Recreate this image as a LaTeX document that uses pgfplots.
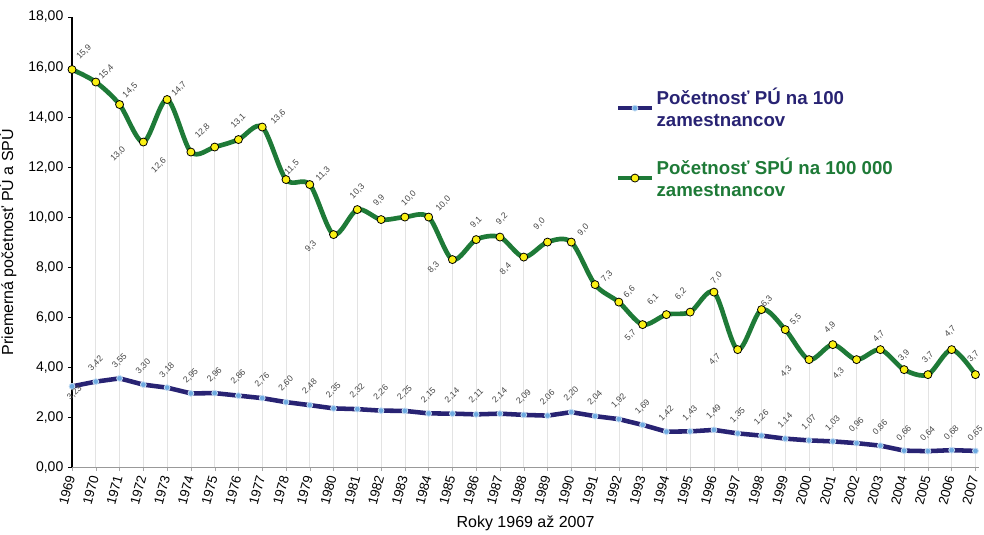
\documentclass[border=0pt]{standalone}
\usepackage{pgfplots}
\pgfplotsset{compat=1.18}
\usepackage{pgfplotstable}
\usepackage{fontspec}
\setmainfont{Liberation Sans}
\definecolor{pugreen}{RGB}{30,122,55}
\definecolor{punavy}{RGB}{40,35,115}
\definecolor{pulight}{RGB}{110,170,225}
\definecolor{puyellow}{RGB}{250,240,20}
\definecolor{labgray}{RGB}{70,70,70}
% gdx, gdy, bdx, bdy: label offsets (pt) of the value labels
\pgfplotstableread{
year pu spu gdx gdy bdx bdy
1969 3.23 15.9 9 13 2 -5
1970 3.42 15.4 8 7.5 0 13.5
1971 3.55 14.5 8 10.5 0 13
1972 3.30 13.0 -19 -9 0 13.5
1973 3.18 14.7 9 8 0 13
1974 2.95 12.6 -24 -10 0 13
1975 2.96 12.8 -9 12 0 13.5
1976 2.86 13.1 0 14 0 14
1977 2.76 13.6 12 7.5 0 13.5
1978 2.60 11.5 4.5 9 0 14
1979 2.48 11.3 10 8 0 14
1980 2.35 9.3 -17 -9 0 13.5
1981 2.32 10.3 0 13.5 0 13.5
1982 2.26 9.9 -1.5 14 0 13.5
1983 2.25 10.0 3 14 0 13.5
1984 2.15 10.0 11 10 0 13.5
1985 2.14 8.3 -14 -6 0 13.5
1986 2.11 9.1 0 13 0 13.5
1987 2.14 9.2 1.5 13.5 0 13.5
1988 2.09 8.4 -13.5 -9 0 13.5
1989 2.06 9.0 -6 13.5 0 13.5
1990 2.20 9.0 9 9 0 13.5
1991 2.04 7.3 9 6 0 13.5
1992 1.92 6.6 8 7.5 0 13.5
1993 1.69 5.7 -9 -8 0 13.5
1994 1.42 6.1 -10 11 0 13.5
1995 1.43 6.2 -7 13.5 0 13.5
1996 1.49 7.0 2 10.5 0 13.5
1997 1.35 4.7 -17 -7.5 0 13.5
1998 1.26 6.3 4 6 0 13.5
1999 1.14 5.5 8 7.5 0 13.5
2000 1.07 4.3 -17 -9 0 13.5
2001 1.03 4.9 -2 13 0 13.5
2002 0.96 4.3 -13.5 -10.5 0 13.5
2003 0.86 4.7 -1 10 0 13.5
2004 0.66 3.9 0 10.5 0 13
2005 0.64 3.7 0 13 0 13
2006 0.68 4.7 -1 13.5 0 13
2007 0.65 3.7 -1.5 13.5 0 13
}\data
\begin{document}
\begin{tikzpicture}
\begin{axis}[
  scale only axis, width=680pt, height=337.5pt,
  xmin=1969, xmax=2007.15, ymin=0, ymax=18,
  axis lines=left, axis line style={-},
  x axis line style={draw=gray!80},
  y axis line style={draw=black, line width=0.9pt},
  xtick={1969,...,2007}, ytick={0,2,...,18},
  tick align=outside, major tick length=3pt,
  xtick style={draw=gray!70}, ytick style={draw=black},
  /pgf/number format/assume math mode=true,
  xticklabel style={rotate=75, anchor=east, font=\fontsize{10}{12}\selectfont, /pgf/number format/1000 sep={}},
  yticklabel style={font=\fontsize{10.5}{12}\selectfont, /pgf/number format/.cd, fixed, fixed zerofill, precision=2, use comma},
  label style={font=\fontsize{12}{14}\selectfont},
  ylabel={Priemerná početnosť PÚ a SPÚ},
  ylabel shift=2pt,
  xlabel={Roky 1969 až 2007},
  legend style={at={(0.595,0.855)}, anchor=north west, draw=none, fill=none,
    font=\bfseries\fontsize{14}{16.5}\selectfont, row sep=18pt, cells={align=left}},
  legend cell align=left,
  legend image code/.code={\draw[mark repeat=2,mark phase=2,#1] plot coordinates {(0pt,0pt) (12.5pt,0pt) (25pt,0pt)};},
]
% drop lines
\addplot[ycomb, draw=gray!22, line width=0.5pt, mark=none, forget plot, restrict x to domain=1969.5:2008] table[x=year,y=spu]{\data};
% PU series
\addplot[punavy, line width=3.4pt, mark=*, mark size=2.2pt,
  mark options={fill=pulight, draw=pulight!40!white, line width=0.6pt}] table[x=year,y=pu]{\data};
\addlegendentry[text=punavy]{Početnosť PÚ na 100\\zamestnancov}
% SPU series
\addplot[pugreen, line width=3.5pt, smooth, mark=*, mark size=3pt,
  mark options={fill=puyellow, draw=black, line width=0.6pt}] table[x=year,y=spu]{\data};
\addlegendentry[text=pugreen]{Početnosť SPÚ na 100 000\\zamestnancov}
% green value labels
\addplot[only marks, mark=none, forget plot, point meta=explicit,
  visualization depends on={\thisrow{gdx}\as\gdx},
  visualization depends on={\thisrow{gdy}\as\gdy},
  nodes near coords={\pgfmathprintnumber[fixed,fixed zerofill,precision=1,use comma]{\pgfplotspointmeta}},
  every node near coord/.append style={anchor=center, xshift=\gdx pt, yshift=\gdy pt, rotate=45,
    font=\fontsize{6.5}{7}\selectfont, text=labgray, inner sep=0.5pt}]
  table[x=year,y=spu,meta=spu]{\data};
% blue value labels
\addplot[only marks, mark=none, forget plot, point meta=explicit,
  visualization depends on={\thisrow{bdx}\as\bdx},
  visualization depends on={\thisrow{bdy}\as\bdy},
  nodes near coords={\pgfmathprintnumber[fixed,fixed zerofill,precision=2,use comma]{\pgfplotspointmeta}},
  every node near coord/.append style={anchor=center, xshift=\bdx pt, yshift=\bdy pt, rotate=45,
    font=\fontsize{6.5}{7}\selectfont, text=labgray, inner sep=0.5pt}]
  table[x=year,y=pu,meta=pu]{\data};
\end{axis}
\pgfresetboundingbox
\path ([shift={(-54pt,-50.25pt)}]current axis.south west) rectangle ([shift={(3.75pt,12.75pt)}]current axis.north east);
\end{tikzpicture}
\end{document}
